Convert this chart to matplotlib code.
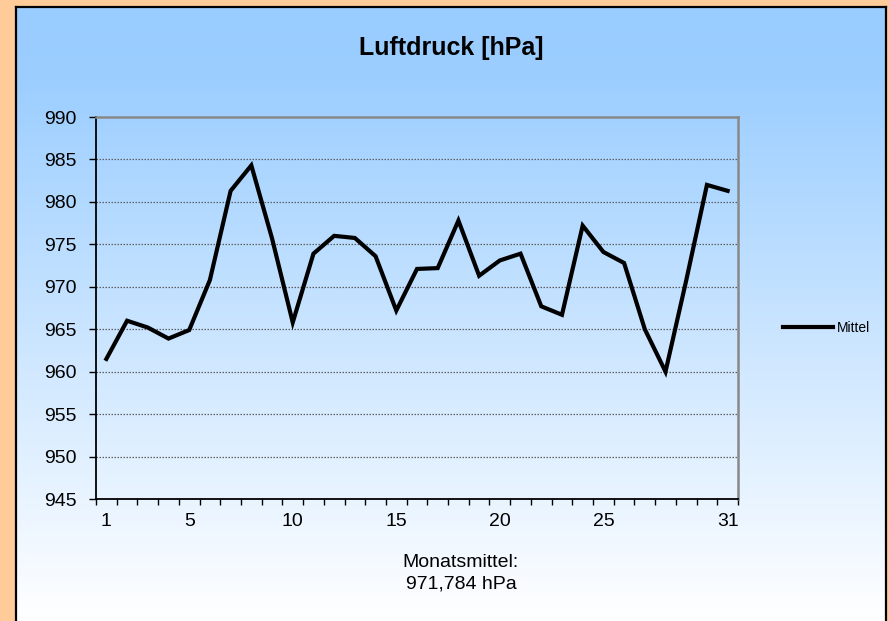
import numpy as np
import matplotlib
matplotlib.use("Agg")
import matplotlib.pyplot as plt
from matplotlib.colors import LinearSegmentedColormap

plt.rcParams['font.family'] = ['Liberation Sans', 'DejaVu Sans']

days = list(range(1, 32))
mittel = [961.5, 966.0, 965.2, 963.9, 964.9, 970.8, 981.3, 984.3, 975.7, 965.8,
          973.9, 976.0, 975.75, 973.6, 967.2, 972.1, 972.2, 977.8, 971.3, 973.1,
          973.9, 967.7, 966.7, 977.2, 974.1, 972.8, 965.0, 960.0, 970.75, 982.0, 981.3]
x_labels = [1, 5, 10, 15, 20, 25, 31]
y_ticks = [945, 950, 955, 960, 965, 970, 975, 980, 985, 990]
title = "Luftdruck [hPa]"
series_name = "Mittel"
footer = "Monatsmittel:\n971,784 hPa"

W, H = 889, 621
fig = plt.figure(figsize=(W / 100, H / 100), dpi=100)
fig.patch.set_facecolor("#FFCC99")

# panel with gradient
px0, px1, py_top = 16, 886, 7
bg = fig.add_axes([px0 / W, 0, (px1 - px0) / W, 1 - py_top / H], zorder=0)
cmap = LinearSegmentedColormap.from_list("g", [(0, "#99CCFF"), (0.12, "#9CCEFF"), (1, "#FFFFFF")])
grad = np.linspace(0, 1, 256).reshape(-1, 1)
bg.imshow(grad, aspect="auto", cmap=cmap, extent=[0, 1, 0, 1], origin="upper")
bg.set_xlim(0, 1); bg.set_ylim(0, 1)
bg.set_xticks([]); bg.set_yticks([])
for s in ["left", "right", "top"]:
    bg.spines[s].set_linewidth(1.6)
    bg.spines[s].set_color("black")
bg.spines["bottom"].set_visible(False)

# plot area
ax_l, ax_r, ax_t, ax_b = 96, 738, 117, 499
ax = fig.add_axes([ax_l / W, 1 - ax_b / H, (ax_r - ax_l) / W, (ax_b - ax_t) / H], zorder=2)
ax.patch.set_alpha(0)
ax.plot(days, mittel, color="black", linewidth=3.0, solid_joinstyle="miter", label=series_name, zorder=3)
ax.set_xlim(0.5, 31.5)
ax.set_ylim(945, 990)
ax.set_yticks(y_ticks)
ax.set_yticklabels([str(v) for v in y_ticks], fontsize=14)
ax.set_xticks(x_labels)
ax.set_xticklabels([str(v) for v in x_labels], fontsize=14)
ax.set_xticks(np.arange(0.5, 32, 1), minor=True)
ax.tick_params(axis="x", which="major", length=0, pad=10)
ax.tick_params(axis="x", which="minor", length=4.5, width=1, direction="out")
ax.tick_params(axis="y", which="major", length=5, width=1, direction="out", pad=9)
for v in y_ticks[1:-1]:
    ax.axhline(v, color="#606060", linewidth=0.9, linestyle=(0, (1.2, 1.2)), zorder=1)
ax.spines["left"].set_color("black")
ax.spines["bottom"].set_color("black")
ax.spines["left"].set_linewidth(1.3)
ax.spines["bottom"].set_linewidth(1.3)
ax.spines["top"].set_color("#888888")
ax.spines["right"].set_color("#888888")
ax.spines["top"].set_linewidth(1.8)
ax.spines["right"].set_linewidth(1.8)

fig.text(451 / W, 1 - 48 / H, title, ha="center", va="center", fontsize=18, fontweight="bold")
fig.text(461 / W, 1 - 573 / H, footer, ha="center", va="center", fontsize=14, linespacing=1.35)

fig.legend(loc="center left", bbox_to_anchor=(783 / W, 1 - 328 / H), frameon=False, fontsize=10,
           handlelength=3.6, handletextpad=0.3, borderpad=0, borderaxespad=0)

fig.savefig("out.png", dpi=100, facecolor=fig.get_facecolor())
